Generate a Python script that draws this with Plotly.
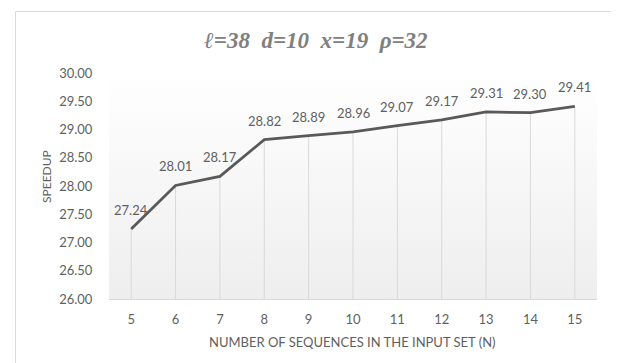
import plotly.graph_objects as go

# ---- data ----
n_values = [5, 6, 7, 8, 9, 10, 11, 12, 13, 14, 15]
speedup = [27.24, 28.01, 28.17, 28.82, 28.89, 28.96, 29.07, 29.17, 29.31, 29.30, 29.41]
y_ticks = [26.0, 26.5, 27.0, 27.5, 28.0, 28.5, 29.0, 29.5, 30.0]
title_text = "ℓ=38  d=10  x=19  ρ=32"
x_title = "NUMBER OF SEQUENCES IN THE INPUT SET (N)"
y_title = "SPEEDUP"

y_min, y_max = y_ticks[0], y_ticks[-1]
x_lo, x_hi = n_values[0] - 0.5, n_values[-1] + 0.5

OFF = 8  # default page body margin
W, H = 619 - OFF, 363 - OFF
L, T = 109 - OFF, 73 - OFF
pw, ph = 488, 226
R, B = W - L - pw, H - T - ph


def px_x(p):  # screen px -> paper
    return (p - OFF - L) / pw


def px_y(p):
    return (T + ph - (p - OFF)) / ph


fig = go.Figure()

# gradient plot-area background
fig.add_trace(go.Scatter(
    x=[x_lo, x_hi, x_hi, x_lo, x_lo],
    y=[y_min, y_min, y_max, y_max, y_min],
    mode="lines", line=dict(width=0), fill="toself",
    fillgradient=dict(type="vertical",
                      colorscale=[[0, "#eeeeee"], [1, "#ffffff"]]),
    hoverinfo="skip", showlegend=False,
))

# drop lines
dx, dy = [], []
for xv, yv in zip(n_values, speedup):
    dx += [xv, xv, None]
    dy += [yv, y_min, None]
fig.add_trace(go.Scatter(x=dx, y=dy, mode="lines",
                         line=dict(color="#d9d9d9", width=1),
                         hoverinfo="skip", showlegend=False))

# main line
fig.add_trace(go.Scatter(x=n_values, y=speedup, mode="lines",
                         line=dict(color="#595959", width=2.75),
                         showlegend=False))

# data labels
for xv, yv in zip(n_values, speedup):
    fig.add_annotation(x=xv, y=yv, text=f"{yv:.2f}", showarrow=False,
                       yshift=19, font=dict(family="Lato", size=13, color="#5f5f5f"))

# title
fig.add_annotation(xref="paper", yref="paper", x=px_x(316), y=px_y(40),
                   text=title_text, showarrow=False, xanchor="center", yanchor="middle",
                   font=dict(family="Liberation Serif", size=23, color="#808080",
                             style="italic", weight="bold"))
# axis titles
fig.add_annotation(xref="paper", yref="paper", x=px_x(352.5), y=px_y(342),
                   text=x_title, showarrow=False, xanchor="center", yanchor="middle",
                   font=dict(family="Lato", size=13, color="#5f5f5f"))
fig.add_annotation(xref="paper", yref="paper", x=px_x(46), y=px_y(177),
                   text=y_title, showarrow=False, textangle=-90,
                   xanchor="center", yanchor="middle",
                   font=dict(family="Lato", size=12, color="#5f5f5f"))

# outer chart border
fig.add_shape(type="rect", xref="paper", yref="paper",
              x0=px_x(15.5), x1=px_x(613.5), y0=px_y(380), y1=px_y(11.5),
              line=dict(color="#d9d9d9", width=1), fillcolor="rgba(0,0,0,0)")

fig.update_layout(
    width=W, height=H,
    margin=dict(l=L, r=R, t=T, b=B, pad=0),
    paper_bgcolor="white", plot_bgcolor="white",
    showlegend=False,
    font=dict(family="Lato", color="#5f5f5f", size=13),
)
fig.update_xaxes(range=[x_lo, x_hi], tickmode="array", tickvals=n_values,
                 ticktext=[str(v) for v in n_values],
                 showgrid=False, zeroline=False,
                 showline=True, linecolor="#d9d9d9", linewidth=1,
                 ticks="outside", ticklen=8, tickcolor="rgba(0,0,0,0)",
                 tickfont=dict(family="Lato", size=13, color="#5f5f5f"))
fig.update_yaxes(range=[y_min, y_max], tickmode="array", tickvals=y_ticks,
                 ticktext=[f"{v:.2f}" for v in y_ticks],
                 showgrid=False, zeroline=False, showline=False,
                 ticks="outside", ticklen=13, tickcolor="rgba(0,0,0,0)",
                 tickfont=dict(family="Lato", size=13, color="#5f5f5f"))

fig.write_html("out.html")
